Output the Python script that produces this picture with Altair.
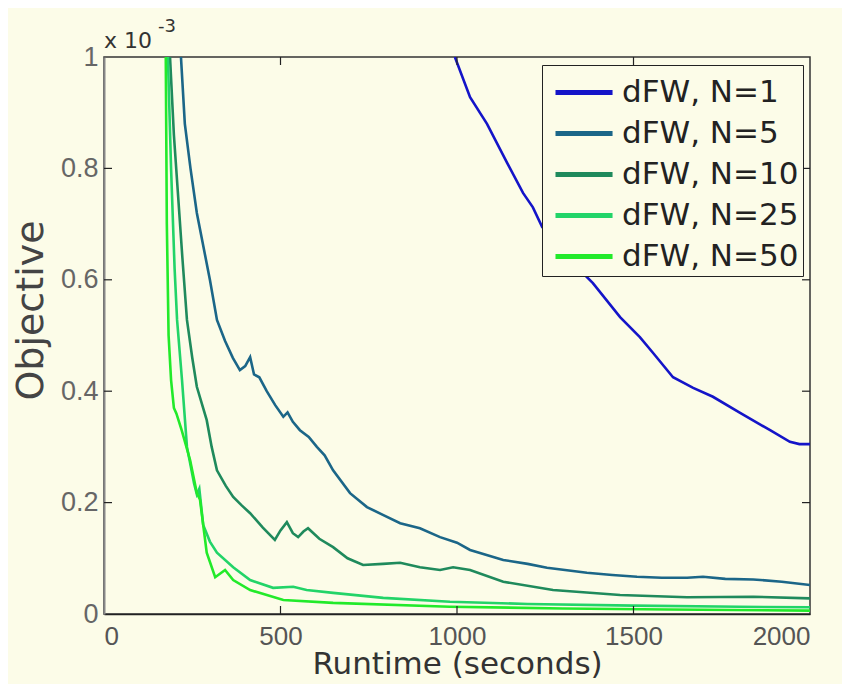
import altair as alt
import pandas as pd

# ---- data (objective in units of 1e-3) ----
series_names = ["dFW, N=1", "dFW, N=5", "dFW, N=10", "dFW, N=25", "dFW, N=50"]
series_colors = ["#1414c8", "#1b6688", "#1f8a5c", "#22d468", "#22ea2a"]

n1_x = [994, 1037, 1085, 1142, 1187, 1215, 1241, 1300, 1385, 1462, 1518, 1555, 1612, 1669, 1725, 1802, 1887, 1943, 1970, 2000]
n1_y = [1.0, 0.928, 0.88, 0.81, 0.756, 0.73, 0.695, 0.648, 0.594, 0.533, 0.497, 0.469, 0.425, 0.406, 0.390, 0.361, 0.330, 0.309, 0.305, 0.305]

n5_x = [218, 229, 245, 263, 300, 320, 343, 365, 385, 400, 414, 425, 440, 461, 485, 508, 520, 535, 555, 580, 603, 625, 649, 697, 745, 790, 839, 895, 952, 1000, 1037, 1131, 1200, 1255, 1368, 1440, 1510, 1580, 1652, 1697, 1760, 1839, 1920, 2000]
n5_y = [1.0, 0.88, 0.80, 0.72, 0.60, 0.528, 0.49, 0.46, 0.438, 0.445, 0.461, 0.43, 0.425, 0.40, 0.375, 0.354, 0.362, 0.345, 0.33, 0.318, 0.30, 0.285, 0.258, 0.217, 0.192, 0.178, 0.163, 0.154, 0.138, 0.128, 0.115, 0.097, 0.09, 0.083, 0.074, 0.07, 0.067, 0.065, 0.065, 0.067, 0.063, 0.062, 0.058, 0.052]

n10_x = [187, 198, 210, 222, 235, 250, 263, 291, 305, 320, 345, 366, 390, 414, 450, 484, 500, 518, 535, 550, 565, 578, 610, 649, 690, 734, 790, 839, 895, 952, 989, 1037, 1131, 1272, 1462, 1652, 1839, 2000]
n10_y = [1.0, 0.86, 0.75, 0.64, 0.528, 0.46, 0.408, 0.348, 0.30, 0.258, 0.23, 0.21, 0.195, 0.181, 0.155, 0.133, 0.15, 0.165, 0.145, 0.138, 0.148, 0.154, 0.135, 0.12, 0.10, 0.088, 0.09, 0.092, 0.084, 0.079, 0.084, 0.079, 0.058, 0.043, 0.034, 0.03, 0.031, 0.028]

n25_x = [181, 190, 200, 207, 221, 235, 255, 263, 270, 281, 300, 320, 366, 414, 479, 536, 574, 649, 791, 980, 1200, 1500, 1800, 2000]
n25_y = [1.0, 0.8, 0.62, 0.528, 0.42, 0.30, 0.235, 0.215, 0.225, 0.16, 0.13, 0.11, 0.084, 0.061, 0.047, 0.049, 0.043, 0.038, 0.029, 0.022, 0.018, 0.015, 0.013, 0.012]

n50_x = [175, 178, 183, 190, 198, 205, 220, 244, 263, 272, 291, 315, 343, 366, 414, 508, 649, 980, 1300, 1600, 2000]
n50_y = [1.0, 0.7, 0.5, 0.42, 0.37, 0.36, 0.33, 0.276, 0.217, 0.205, 0.11, 0.066, 0.079, 0.061, 0.043, 0.025, 0.02, 0.013, 0.01, 0.008, 0.006]

x_ticks = [0, 500, 1000, 1500, 2000]
y_ticks = [0, 0.2, 0.4, 0.6, 0.8, 1]

# ---- build table ----
all_x = [n1_x, n5_x, n10_x, n25_x, n50_x]
all_y = [n1_y, n5_y, n10_y, n25_y, n50_y]
rows = []
for name, xs_, ys_ in zip(series_names, all_x, all_y):
    for i, (a, b) in enumerate(zip(xs_, ys_)):
        rows.append({"series": name, "t": a, "obj": b, "order": i})
df = pd.DataFrame(rows)

W, H = 706, 557
XMAX, YMAX = 2000, 1.0
TL = 8  # tick length in px
dx_t = TL * XMAX / W
dy_t = TL * YMAX / H

BG = "#fcfce8"
FONT_T = "DejaVu Sans"
FONT_L = "Liberation Sans"

xs = alt.Scale(domain=[0, XMAX], nice=False, zero=False)
ys = alt.Scale(domain=[0, YMAX], nice=False, zero=False)

lines = alt.Chart(df).mark_line(strokeWidth=2.6, clip=True).encode(
    x=alt.X("t:Q", scale=xs,
            axis=alt.Axis(values=x_ticks, format="d", ticks=False, tickSize=0,
                          labelPadding=9, labelFont=FONT_L, labelFontSize=26,
                          labelColor="#555", domainColor="#222", domainWidth=1.5,
                          grid=False, title="Runtime (seconds)", titleFont=FONT_T,
                          titleFontSize=31, titleFontWeight="normal", titleColor="#333",
                          titleY=59, titleBaseline="alphabetic")),
    y=alt.Y("obj:Q", scale=ys,
            axis=alt.Axis(values=y_ticks, labelExpr="format(datum.value, '~g')",
                          ticks=False, tickSize=0, labelPadding=6, labelFont=FONT_L,
                          labelFontSize=27, labelColor="#666", domainColor="#888",
                          domainWidth=2, grid=False, title="Objective", titleFont=FONT_T,
                          titleFontSize=38, titleFontWeight="normal", titleColor="#444",
                          titleX=-62, titleY=253, titleAlign="center",
                          titleBaseline="alphabetic", titleAngle=-90)),
    color=alt.Color("series:N", sort=series_names,
                    scale=alt.Scale(domain=series_names, range=series_colors),
                    legend=alt.Legend(title=None, orient="none", legendX=438, legendY=8,
                                      symbolType="M-0.667,0H2.05", symbolSize=1764,
                                      symbolStrokeWidth=5, labelFont=FONT_T,
                                      labelFontSize=31, labelColor="#222", labelLimit=0,
                                      labelOffset=29, rowPadding=2, padding=4,
                                      strokeColor="#222", fillColor=BG)),
    order="order:Q",
)

# inward tick marks (MATLAB style)
xt = pd.DataFrame({"v": x_ticks[1:-1]})
yt = pd.DataFrame({"v": y_ticks[1:-1]})
tick_style = dict(color="#222", strokeWidth=1.2)

bottom_ticks = alt.Chart(xt).transform_calculate(a="0", b=str(dy_t)).mark_rule(**tick_style).encode(
    x=alt.X("v:Q", scale=xs), y=alt.Y("a:Q", scale=ys), y2="b:Q")
top_ticks = alt.Chart(xt).transform_calculate(a=str(YMAX), b=str(YMAX - dy_t)).mark_rule(**tick_style).encode(
    x=alt.X("v:Q", scale=xs), y=alt.Y("a:Q", scale=ys), y2="b:Q")
left_ticks = alt.Chart(yt).transform_calculate(a="0", b=str(dx_t)).mark_rule(**tick_style).encode(
    y=alt.Y("v:Q", scale=ys), x=alt.X("a:Q", scale=xs), x2="b:Q")
right_ticks = alt.Chart(yt).transform_calculate(a=str(XMAX), b=str(XMAX - dx_t)).mark_rule(**tick_style).encode(
    y=alt.Y("v:Q", scale=ys), x=alt.X("a:Q", scale=xs), x2="b:Q")

# exponent label "x 10^-3"
exp_df = pd.DataFrame({"t": [0], "obj": [YMAX], "base": ["x 10"], "sup": ["-3"]})
exp_base = alt.Chart(exp_df).mark_text(font=FONT_T, fontSize=22, color="#333",
                                       align="left", baseline="alphabetic", dx=0, dy=-9).encode(
    x=alt.X("t:Q", scale=xs), y=alt.Y("obj:Q", scale=ys), text="base:N")
exp_sup = alt.Chart(exp_df).mark_text(font=FONT_T, fontSize=18, color="#333",
                                      align="left", baseline="alphabetic", dx=54, dy=-25).encode(
    x=alt.X("t:Q", scale=xs), y=alt.Y("obj:Q", scale=ys), text="sup:N")

chart = alt.layer(lines, bottom_ticks, top_ticks, left_ticks, right_ticks, exp_base, exp_sup).properties(
    width=W, height=H,
    autosize=alt.AutoSizeParams(type="none"),
    padding={"left": 96, "top": 49, "right": 32, "bottom": 70},
    background=BG,
).configure_view(stroke="#333", strokeWidth=1.5, fill=BG)

chart.save("out.html", embed_options={"renderer": "svg", "actions": False})
